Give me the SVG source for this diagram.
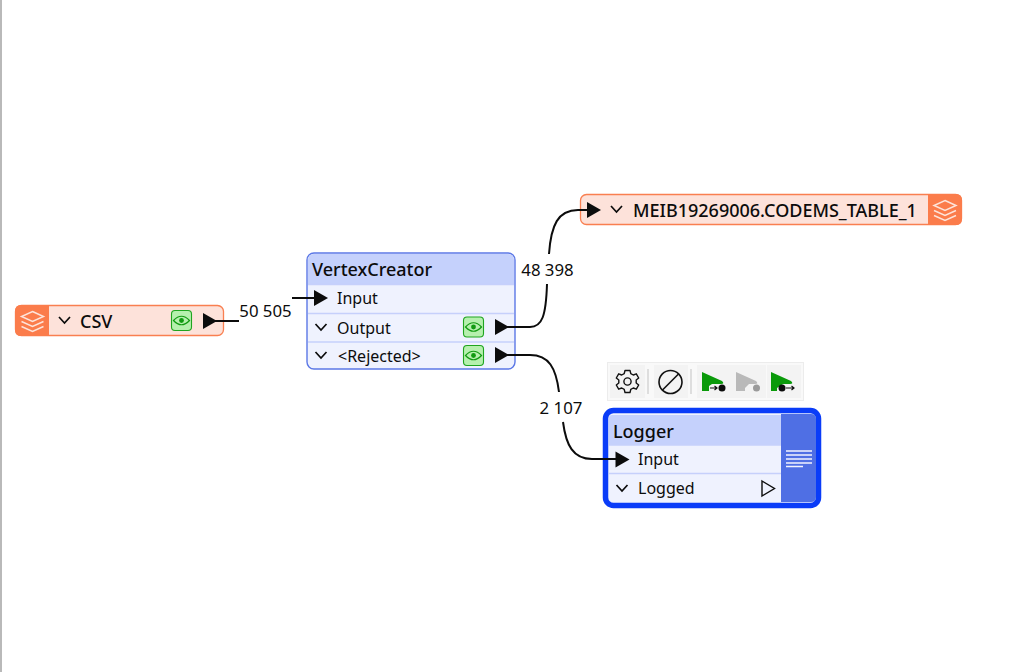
<svg xmlns="http://www.w3.org/2000/svg" width="1012" height="672" viewBox="0 0 1012 672">
<style>
text{font-family:"Noto Sans","Open Sans","Liberation Sans",sans-serif;fill:#0c0c0c}
.t{font-size:18px;font-weight:500}
.p{font-size:16px}
.c{font-size:16.8px;text-anchor:middle}
.conn{fill:none;stroke:#0c0c0c;stroke-width:2}
.tri{fill:#0c0c0c}
.chev{fill:none;stroke:#0c0c0c;stroke-width:1.7}
.sep{stroke:#c6d0fb;stroke-width:1.6}
.layer{fill:none;stroke:#fde4da;stroke-width:1.5}
.tb{fill:#efefef}
</style>
<defs>
<g id="eye">
<rect x="-10" y="-10" width="20" height="20" rx="3.5" fill="#b6f0ae" stroke="#1fa51f" stroke-width="1.1"/>
<path d="M-8 0Q0 -8.500 8 0Q0 8.500 -8 0Z" fill="none" stroke="#129a12" stroke-width="1.200"/>
<circle r="2.400" fill="#129a12"/>
</g>
<g id="layers">
<path class="layer" d="M0 -9L11 -4L0 1L-11 -4Z"/>
<path class="layer" d="M-11 1L0 6L11 1"/>
<path class="layer" d="M-11 6L0 11L11 6"/>
</g>
<path id="chev" class="chev" d="M-5.500 -3L0 3L5.500 -3"/>
<path id="tri" class="tri" d="M-7 -8L7 0L-7 8Z"/>
</defs>
<rect width="1012" height="672" fill="#fff"/>
<rect x="0" y="0" width="2" height="672" fill="#b9b9b9"/>

<g id="csv">
<rect x="15.500" y="305.500" width="208" height="30" rx="6" fill="#fde2da" stroke="#f97f50" stroke-width="1.300"/>
<path d="M21 305H49V336H21Q15 336 15 330V311Q15 305 21 305Z" fill="#fb7c4b"/>
<use href="#layers" x="32.500" y="320.500"/>
<use href="#chev" x="64.500" y="320"/>
<text class="t" x="80" y="327.500">CSV</text>
<use href="#eye" x="181.500" y="320.500"/>
<use href="#tri" x="210" y="321"/>
</g>

<g id="vertexcreator">
<rect x="307" y="253" width="208" height="116" rx="7" fill="#eff2fe" stroke="#5c78e6" stroke-width="1.400"/>
<path d="M308 284V260Q308 254 314 254H508Q514 254 514 260V284Z" fill="#c5d1fc"/>
<line class="sep" x1="308" y1="284.500" x2="514" y2="284.500"/>
<line class="sep" x1="308" y1="313.500" x2="514" y2="313.500"/>
<line class="sep" x1="308" y1="342" x2="514" y2="342"/>
<text class="t" x="312" y="275.500">VertexCreator</text>
<use href="#tri" x="321" y="298"/>
<text class="p" x="337" y="304">Input</text>
<use href="#chev" x="321" y="327"/>
<text class="p" x="337" y="334">Output</text>
<use href="#eye" x="473.500" y="327"/>
<use href="#tri" x="502" y="327"/>
<use href="#chev" x="321" y="355"/>
<text class="p" x="338" y="362">&lt;Rejected&gt;</text>
<use href="#eye" x="473.500" y="355.500"/>
<use href="#tri" x="502" y="355"/>
</g>

<g id="meib19269006">
<rect x="580.500" y="194.500" width="381" height="30" rx="6" fill="#fde2da" stroke="#f97f50" stroke-width="1.300"/>
<path d="M928 194H956Q962 194 962 200V219Q962 225 956 225H928Z" fill="#fb7c4b"/>
<use href="#layers" x="945" y="209.500"/>
<use href="#tri" x="594" y="210"/>
<use href="#chev" x="616.500" y="209"/>
<text class="t" x="633" y="217">MEIB19269006.CODEMS_TABLE_1</text>
</g>

<g id="logger">
<rect x="605.500" y="410.500" width="213" height="95" rx="8" fill="#eff2fe" stroke="#0a3cf8" stroke-width="5.500"/>
<path d="M781 414H811Q816 414 816 419V497Q816 502 811 502H781Z" fill="#4f6fe4"/>
<path d="M609 445V418Q609 415 612 415H781V445Z" fill="#c5d1fc"/>
<line class="sep" x1="609" y1="445" x2="781" y2="445"/>
<line class="sep" x1="609" y1="473.500" x2="781" y2="473.500"/>
<path d="M786 451H812M786 455H812M786 459H812M786 463H812M786 466.500H803" stroke="#f2f4fe" stroke-width="1.300" fill="none"/>
<text class="t" x="613" y="437.500">Logger</text>
<use href="#tri" x="622.500" y="459.500"/>
<text class="p" x="638" y="465">Input</text>
<use href="#chev" x="622" y="488"/>
<text class="p" x="638" y="494">Logged</text>
<path d="M762 481L774.500 488.500L762 496Z" fill="none" stroke="#0c0c0c" stroke-width="1.400"/>
</g>

<g id="toolbar">
<rect x="607.500" y="362.500" width="196" height="38" fill="#f9f9f9" stroke="#ececec"/>
<rect x="610" y="365" width="35" height="33" class="tb" opacity=".6"/>
<rect x="654" y="365" width="34" height="33" class="tb" opacity=".6"/>
<rect x="697" y="365" width="35" height="33" class="tb" opacity=".6"/>
<rect x="732" y="365" width="34" height="33" class="tb" opacity=".6"/>
<rect x="767" y="365" width="34" height="33" class="tb" opacity=".6"/>
<line x1="648" y1="369" x2="648" y2="394" stroke="#d5d5d5" stroke-width="1.500"/>
<line x1="691" y1="369" x2="691" y2="394" stroke="#d5d5d5" stroke-width="1.500"/>
<g transform="translate(627.500 381.500)" fill="none" stroke="#111" stroke-width="1.400">
<circle r="3.600"/>
<path d="M-2.500 -11H2.500L3.300 -7.800L5.800 -6.500L8.800 -7.700L11.200 -3.500L8.700 -1.500V1.500L11.200 3.500L8.800 7.700L5.800 6.500L3.300 7.800L2.500 11H-2.500L-3.300 7.800L-5.800 6.500L-8.800 7.700L-11.200 3.500L-8.700 1.500V-1.500L-11.200 -3.500L-8.800 -7.700L-5.800 -6.500L-3.300 -7.800Z" stroke-linejoin="round"/>
</g>
<g transform="translate(670.500 382)" fill="none" stroke="#111" stroke-width="1.600">
<circle r="11.500"/>
<line x1="-8" y1="8" x2="8" y2="-8"/>
</g>
<path d="M702 372L722 381Q725 384 721 384H712L709 386V391H702Z" fill="#0a9a0a"/>
<path d="M710 388H717M714.500 386L717 388L714.500 390" fill="none" stroke="#111" stroke-width="1.200"/>
<circle cx="722" cy="388" r="3.500" fill="#0c0c0c"/>
<path d="M736 372L756 381Q759 384 755 384H749L745 388V391H736Z" fill="#b9b9b9"/>
<circle cx="756.500" cy="388" r="3.500" fill="#9a9a9a"/>
<path d="M771 372L791 381Q794 384 790 384H783L777 388V391H771Z" fill="#0a9a0a"/>
<circle cx="782" cy="388" r="3.500" fill="#0c0c0c"/>
<path d="M786 388H794M791.500 386L794 388L791.500 390" fill="none" stroke="#111" stroke-width="1.200"/>
</g>

<g id="connectors">
<path class="conn" d="M212 321H239"/>
<path class="conn" d="M292 298H321"/>
<path class="conn" d="M503 327H530C542 327 546 316 547 284"/>
<path class="conn" d="M549 254C551 225 558 210 578 210H594"/>
<path class="conn" d="M503 355H530C549 355 556 368 559 392"/>
<path class="conn" d="M563 422C566 445 573 459 592 459H623"/>
</g>

<g id="connector-labels">
<text class="c" x="265.500" y="316.500">50 505</text>
<text class="c" x="547.500" y="275.500">48 398</text>
<text class="c" x="561" y="414">2 107</text>
</g>
</svg>
